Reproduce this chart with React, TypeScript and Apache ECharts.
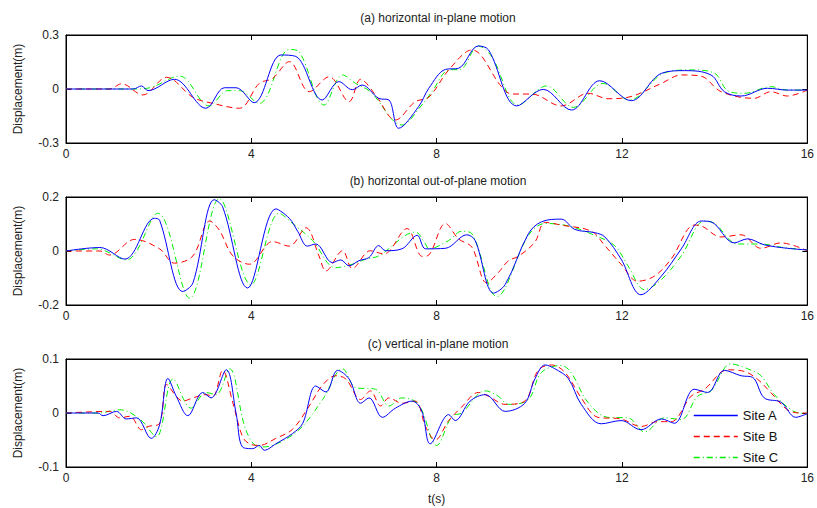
import React, { useEffect, useRef } from "react";
import * as echarts from "echarts";

// ---- Data (t in s, displacement in m) ----
const xTicks = [0, 4, 8, 12, 16];
const panelTitles = [
  "(a) horizontal in-plane motion",
  "(b) horizontal out-of-plane motion",
  "(c) vertical in-plane motion",
];
const yRanges = [0.3, 0.2, 0.1];
const siteNames = ["Site A", "Site B", "Site C"];

const aSiteA = [
  [0, 0], [1.45, 0], [1.63, 0.017], [1.77, -0.009], [2.34, 0.054], [3.02, -0.107], [3.42, 0.007],
  [3.67, 0.007], [4.06, -0.076], [4.64, 0.189], [4.96, 0.181], [5.53, -0.061], [5.89, 0.041],
  [6.18, -0.004], [6.39, 0.022], [6.75, -0.052], [6.97, -0.061], [7.18, -0.218], [7.61, -0.098],
  [7.83, 0.004], [8.19, 0.109], [8.47, 0.115], [8.9, 0.239], [9.12, 0.217], [9.73, -0.094],
  [10.3, -0.002], [10.91, -0.117], [11.52, 0.046], [12.2, -0.065], [12.85, 0.087], [13.35, 0.102],
  [13.92, 0.078], [14.21, -0.015], [14.57, -0.039], [15.14, 0.004], [15.57, -0.006], [16, -0.006],
];
const aSiteB = [
  [0, 0], [0.94, 0], [1.2, 0.029], [1.66, -0.033], [2.17, 0.065], [2.74, -0.046], [3.17, -0.08],
  [3.74, -0.107], [4.17, 0.031], [4.46, 0.059], [4.82, 0.152], [5.25, -0.015], [5.68, 0.068],
  [6.11, -0.07], [6.36, 0.054], [6.68, -0.033], [7.11, -0.172], [7.54, -0.07], [7.83, -0.046],
  [8.26, 0.106], [8.76, 0.217], [9.4, 0.013], [9.62, -0.028], [10.05, -0.028], [10.69, -0.094],
  [11.27, -0.024], [11.7, -0.054], [12.13, -0.046], [12.85, 0.031], [13.28, 0.078], [13.7, 0.072],
  [14.14, -0.015], [14.85, -0.052], [15.21, -0.015], [15.57, -0.039], [16, -0.006],
];
const aSiteC = [
  [0, 0], [1.45, 0], [1.81, 0.007], [2.45, 0.072], [3.09, -0.094], [3.49, -0.009], [3.74, -0.009],
  [4.17, -0.08], [4.82, 0.22], [5.03, 0.207], [5.57, -0.089], [5.97, 0.078], [6.25, 0.031],
  [6.57, -0.015], [7.25, -0.2], [7.68, -0.089], [7.9, -0.015], [8.26, 0.106], [8.51, 0.109],
  [8.9, 0.239], [9.19, 0.18], [9.76, -0.089], [10.37, 0.017], [10.95, -0.102], [11.59, 0.031],
  [12.16, -0.061], [12.92, 0.09], [13.49, 0.106], [14.0, 0.087], [14.28, -0.009], [14.64, -0.024],
  [15.21, 0.013], [15.57, -0.006], [16, -0.006],
];

const bSiteA = [
  [0, 0], [0.73, 0.013], [1.27, -0.03], [1.91, 0.121], [2.02, 0.114], [2.52, -0.15], [2.74, -0.118],
  [3.2, 0.19], [3.38, 0.164], [3.92, -0.137], [4.53, 0.156], [4.82, 0.121], [5.0, 0.073],
  [5.21, 0.018], [5.39, 0.026], [5.75, -0.043], [5.93, -0.033], [6.11, -0.055], [6.32, -0.036],
  [6.54, -0.024], [6.75, 0.02], [6.9, 0.001], [7.25, 0.008], [7.58, 0.058], [7.76, 0.008],
  [8.19, 0.01], [8.65, 0.06], [8.83, 0.039], [9.23, -0.156], [9.48, -0.124], [9.98, 0.064],
  [10.26, 0.108], [10.69, 0.118], [10.98, 0.08], [11.41, 0.068], [11.63, 0.052], [11.98, -0.03],
  [12.41, -0.162], [12.85, -0.093], [13.28, 0.008], [13.71, 0.111], [13.92, 0.108], [14.42, 0.03],
  [14.71, 0.045], [15.07, 0.023], [15.57, 0.01], [16, 0.004],
];
const bSiteB = [
  [0, 0], [0.73, 0], [0.94, -0.015], [1.48, 0.043], [2.02, 0.008], [2.34, -0.045], [2.74, -0.018],
  [3.1, 0.111], [3.31, 0.077], [3.6, -0.018], [3.96, -0.049], [4.46, 0.035], [4.82, 0.018],
  [5.18, 0.086], [5.46, -0.018], [5.61, -0.074], [5.97, 0.001], [6.18, -0.065], [6.57, 0.001],
  [6.86, -0.011], [7.36, 0.083], [7.69, -0.02], [7.83, -0.015], [8.19, 0.102], [8.47, 0.045],
  [8.76, 0.014], [9.08, -0.118], [9.33, -0.08], [9.55, -0.036], [9.76, -0.02], [10.12, 0.033],
  [10.34, 0.106], [10.69, 0.096], [11.34, 0.073], [11.63, 0.02], [11.98, -0.049], [12.34, -0.112],
  [12.7, -0.093], [13.06, -0.03], [13.56, 0.096], [13.71, 0.093], [14.14, 0.052], [14.57, 0.06],
  [15.0, 0.01], [15.43, 0.03], [16, 0.001],
];
const bSiteC = [
  [0, 0], [0.66, 0.008], [1.3, -0.033], [1.98, 0.14], [2.67, -0.175], [3.31, 0.194], [3.99, -0.125],
  [4.6, 0.14], [4.89, 0.102], [5.32, 0.039], [5.82, -0.062], [6.18, -0.049], [6.47, -0.03],
  [6.75, -0.018], [7.54, 0.07], [7.76, 0.026], [7.83, 0.008], [8.26, 0.039], [8.54, 0.073],
  [8.76, 0.064], [9.3, -0.169], [9.98, 0.058], [10.34, 0.102], [10.84, 0.093], [11.41, 0.058],
  [11.84, 0.02], [12.13, -0.055], [12.49, -0.143], [12.85, -0.106], [13.28, -0.018], [13.78, 0.111],
  [14.0, 0.102], [14.5, 0.026], [15.0, 0.026], [15.43, 0.014], [16, 0.004],
];

const cSiteA = [
  [0, 0], [0.69, 0], [0.8, -0.005], [1.09, 0.003], [1.3, -0.011], [1.52, -0.009], [1.84, -0.047],
  [2.02, -0.022], [2.2, 0.064], [2.38, 0.031], [2.63, -0.005], [2.95, 0.038], [3.13, 0.028],
  [3.46, 0.08], [3.67, 0], [3.81, -0.063], [4.03, -0.066], [4.17, -0.06], [4.28, -0.069],
  [4.53, -0.057], [4.89, -0.038], [5.11, -0.019], [5.39, 0.05], [5.61, 0.039], [5.86, 0.079],
  [6.11, 0.063], [6.36, 0.018], [6.54, 0.028], [6.83, -0.008], [7.11, 0.009], [7.47, 0.022],
  [7.68, 0.003], [7.86, -0.057], [8.26, -0.003], [8.4, -0.014], [8.72, 0.022], [9.05, 0.034],
  [9.48, 0.003], [9.9, 0.018], [10.12, 0.063], [10.34, 0.089], [10.55, 0.082], [10.84, 0.064],
  [11.12, 0.016], [11.55, -0.02], [11.98, -0.014], [12.41, -0.031], [12.85, -0.011], [13.13, -0.019],
  [13.56, 0.044], [13.85, 0.038], [14.21, 0.079], [14.57, 0.069], [14.82, 0.066], [15.07, 0.028],
  [15.43, 0.02], [15.75, -0.008], [16, -0.001],
];
const cSiteB = [
  [0, 0], [0.94, 0.003], [1.16, -0.009], [1.38, -0.006], [1.63, -0.031], [1.77, -0.025],
  [2.02, -0.019], [2.17, 0.053], [2.38, 0.031], [2.52, 0.022], [2.74, 0.028], [3.02, 0.034],
  [3.17, 0.031], [3.38, 0.079], [3.6, 0.019], [3.81, -0.044], [3.96, -0.057], [4.17, -0.06],
  [4.53, -0.047], [4.89, -0.03], [5.25, 0.013], [5.54, 0.052], [5.82, 0.069], [6.04, 0.063],
  [6.36, 0.025], [6.57, 0.041], [6.79, 0.013], [6.97, 0.028], [7.25, 0.018], [7.54, 0.022],
  [7.76, -0.025], [7.97, -0.05], [8.26, -0.014], [8.54, 0.011], [8.9, 0.038], [9.12, 0.031],
  [9.48, 0.016], [9.9, 0.022], [10.19, 0.079], [10.48, 0.089], [10.77, 0.075], [11.12, 0.028],
  [11.48, -0.008], [11.98, -0.011], [12.41, -0.025], [12.77, -0.016], [13.06, -0.016], [13.49, 0.031],
  [13.78, 0.044], [14.28, 0.08], [14.64, 0.077], [14.92, 0.063], [15.21, 0.038], [15.57, 0.006],
  [15.86, 0], [16, 0],
];
const cSiteC = [
  [0, 0], [0.69, 0], [1.16, 0.006], [1.59, -0.011], [1.95, -0.044], [2.31, 0.063], [2.7, 0.009],
  [3.02, 0.038], [3.24, 0.034], [3.53, 0.082], [3.88, -0.031], [4.17, -0.063], [4.46, -0.06],
  [5.03, -0.031], [5.54, 0.025], [5.97, 0.082], [6.25, 0.047], [6.68, 0.044], [6.97, 0.013],
  [7.25, 0.028], [7.61, 0.016], [8.0, -0.06], [8.33, -0.006], [8.54, 0], [9.05, 0.041],
  [9.33, 0.031], [9.55, 0.016], [9.98, 0.025], [10.26, 0.075], [10.69, 0.088], [10.9, 0.075],
  [11.27, 0.019], [11.7, -0.008], [12.13, -0.009], [12.49, -0.035], [12.92, -0.009], [13.28, -0.012],
  [13.63, 0.031], [13.92, 0.041], [14.35, 0.091], [14.71, 0.082], [15.0, 0.069], [15.28, 0.035],
  [15.71, 0.003], [16, -0.001],
];

const panelData = [
  [aSiteA, aSiteB, aSiteC],
  [bSiteA, bSiteB, bSiteC],
  [cSiteA, cSiteB, cSiteC],
];

const siteColors = ["#0000ff", "#ff0000", "#00ee00"];
const siteDash: any[] = ["solid", [6, 4], [6, 3, 1, 3]];

export default function App() {
  const ref = useRef<HTMLDivElement>(null);
  useEffect(() => {
    if (!ref.current) return;
    const chart = echarts.init(ref.current, undefined, { renderer: "svg" });
    const font = "Liberation Sans, Arial, sans-serif";
    const gridTops = [35, 197, 359];
    const grids = gridTops.map((top) => ({
      left: 66,
      top,
      width: 744,
      height: 108,
      show: true,
      borderColor: "#000",
      borderWidth: 1,
      backgroundColor: "#fff",
    }));
    const lineAx = { show: true, onZero: false, lineStyle: { color: "#000" } };
    const tickAx = { show: true, inside: true, length: 5, lineStyle: { color: "#000" } };
    const xAxes: any[] = [];
    const yAxes: any[] = [];
    gridTops.forEach((_, i) => {
      xAxes.push({
        type: "value",
        gridIndex: i,
        min: xTicks[0],
        max: xTicks[xTicks.length - 1],
        interval: 4,
        position: "bottom",
        axisLine: lineAx,
        axisTick: tickAx,
        axisLabel: { color: "#222", fontSize: 12, fontFamily: font, margin: 5 },
        splitLine: { show: false },
        name: i === 2 ? "t(s)" : "",
        nameLocation: "middle",
        nameGap: 26,
        nameTextStyle: { color: "#222", fontSize: 12, fontFamily: font },
      });
      xAxes.push({
        type: "value",
        gridIndex: i,
        min: 0,
        max: 16,
        interval: 4,
        position: "top",
        axisLine: lineAx,
        axisTick: tickAx,
        axisLabel: { show: false },
        splitLine: { show: false },
      });
      const r = yRanges[i];
      yAxes.push({
        type: "value",
        gridIndex: i,
        min: -r,
        max: r,
        interval: r,
        position: "left",
        axisLine: lineAx,
        axisTick: tickAx,
        axisLabel: { color: "#222", fontSize: 12, fontFamily: font, margin: 7 },
        splitLine: { show: false },
        name: "Displacement(m)",
        nameLocation: "middle",
        nameGap: 42,
        nameTextStyle: { color: "#222", fontSize: 12, fontFamily: font },
      });
      yAxes.push({
        type: "value",
        gridIndex: i,
        min: -r,
        max: r,
        interval: r,
        position: "right",
        axisLine: lineAx,
        axisTick: tickAx,
        axisLabel: { show: false },
        splitLine: { show: false },
      });
    });
    const series: any[] = [];
    panelData.forEach((sites, i) => {
      sites.forEach((d, s) => {
        series.push({
          type: "line",
          name: siteNames[s],
          xAxisIndex: i * 2,
          yAxisIndex: i * 2,
          data: d,
          smooth: 0.35,
          showSymbol: false,
          symbol: "none",
          lineStyle: { color: siteColors[s], width: 1, type: siteDash[s] },
          itemStyle: { color: siteColors[s] },
          z: 5 - s,
        });
      });
    });
    chart.setOption({
      animation: false,
      backgroundColor: "#fff",
      grid: grids,
      xAxis: xAxes,
      yAxis: yAxes,
      series,
      legend: {
        data: siteNames,
        orient: "vertical",
        left: 688,
        top: 404,
        itemWidth: 44,
        itemHeight: 14,
        itemGap: 8,
        itemStyle: { opacity: 0 },
        lineStyle: { width: 1.5 },
        textStyle: { color: "#111", fontSize: 13, fontFamily: font },
      },
      graphic: panelTitles.map((t, i) => ({
        type: "text",
        x: 438,
        y: [18, 181, 344][i],
        style: {
          text: t,
          fill: "#222",
          font: `12px ${font}`,
          textAlign: "center",
          textVerticalAlign: "middle",
        },
      })),
    });
    return () => chart.dispose();
  }, []);
  return (
    <div
      ref={ref}
      style={{ position: "fixed", left: 0, top: 0, width: 817, height: 508, background: "#fff" }}
    />
  );
}
